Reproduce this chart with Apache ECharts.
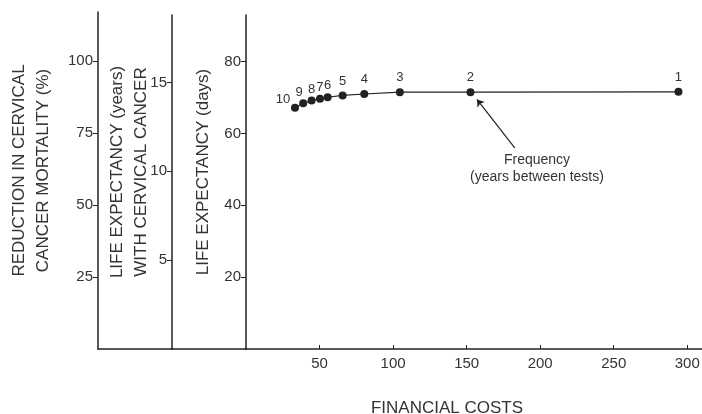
<!DOCTYPE html>
<html><head><meta charset="utf-8">
<script src="https://cdn.jsdelivr.net/npm/echarts@6/dist/echarts.min.js"></script>
<style>html,body{margin:0;padding:0;background:#fff}#c{width:702px;height:414px}</style>
</head><body><div id="c"></div>
<script>
// Data
const frequency = ['10','9','8','7','6','5','4','3','2','1'];   // years between tests
const costs = [33.3, 38.9, 44.6, 50.3, 55.5, 65.7, 80.4, 104.6, 152.6, 294];
const lifeDays = [67.2, 68.4, 69.2, 69.7, 70.1, 70.6, 71.0, 71.5, 71.5, 71.6];
const xTicks = [50, 100, 150, 200, 250, 300];
const daysTicks = [20, 40, 60, 80];
const yearsTicks = [5, 10, 15];
const mortalityTicks = [25, 50, 75, 100];
const arrowFrom = [182.7, 56];
const arrowTo = [157, 69.5];

const FONT = 'Liberation Sans, Arial, sans-serif';
const INK = '#222';
const TXT = '#333';

const chart = echarts.init(document.getElementById('c'), null, {renderer: 'canvas'});

const lineStyle = {color: INK, width: 1.5};
function plainX(gi) {
  return {gridIndex: gi, type: 'value', min: 0, max: 1,
    axisLine: {show: true, lineStyle}, axisTick: {show: false},
    axisLabel: {show: false}, splitLine: {show: false}};
}
function yAx(gi, max, ticks, name, gap) {
  return {gridIndex: gi, type: 'value', min: 0, max: max,
    axisLine: {show: true, onZero: false, lineStyle},
    axisTick: {show: true, length: 5, customValues: ticks, lineStyle: {color: INK, width: 1}},
    axisLabel: {customValues: ticks, color: TXT, fontSize: 15, fontFamily: FONT, margin: 5},
    splitLine: {show: false},
    name: name, nameLocation: 'middle', nameRotate: 90, nameGap: gap, nameMoveOverlap: false,
    nameTextStyle: {color: TXT, fontSize: 17, fontFamily: FONT, lineHeight: 24, padding: [0, 0, 0, 20]}};
}

const labelOffsets = {0: [-12, 6], 1: [-4, 4], 2: [0, 3], 3: [0, 3], 4: [0, 3]};
const pts = costs.map((c, i) => {
  const item = {value: [c, lifeDays[i]], name: frequency[i]};
  if (labelOffsets[i]) item.label = {offset: labelOffsets[i]};
  return item;
});

chart.setOption({
  backgroundColor: '#fff',
  animation: false,
  grid: [
    {left: 246, right: 0, top: 15, bottom: 65, outerBoundsMode: 'none', containLabel: false},
    {left: 98, width: 74, top: 12, bottom: 65, outerBoundsMode: 'none', containLabel: false},
    {left: 172, width: 74, top: 15, bottom: 65, outerBoundsMode: 'none', containLabel: false}
  ],
  xAxis: [
    {gridIndex: 0, type: 'value', min: 0, max: 310,
      axisLine: {show: true, lineStyle},
      axisTick: {show: true, inside: true, length: 4, customValues: xTicks, lineStyle: {color: INK, width: 1}},
      axisLabel: {customValues: xTicks, color: TXT, fontSize: 15, fontFamily: FONT, margin: 7},
      splitLine: {show: false},
      name: 'FINANCIAL COSTS', nameLocation: 'middle', nameGap: 51, nameMoveOverlap: false,
      nameTextStyle: {color: TXT, fontSize: 17, fontFamily: FONT, padding: [0, 54, 0, 0]}},
    plainX(1), plainX(2)
  ],
  yAxis: [
    yAx(0, 93, daysTicks, 'LIFE EXPECTANCY (days)', 31),
    yAx(1, 117, mortalityTicks, 'REDUCTION IN CERVICAL\nCANCER MORTALITY (%)', 43),
    yAx(2, 18.8, yearsTicks, 'LIFE EXPECTANCY (years)\nWITH CERVICAL CANCER', 19)
  ],
  graphic: [
    {type: 'text', x: 537, y: 152, style: {text: 'Frequency\n(years between tests)', align: 'center',
      verticalAlign: 'top', fill: TXT, font: '14px ' + FONT, lineHeight: 17}}
  ],
  series: [{
    type: 'line', xAxisIndex: 0, yAxisIndex: 0, data: pts,
    symbol: 'circle', symbolSize: 8,
    itemStyle: {color: INK}, lineStyle: {color: INK, width: 1.2},
    label: {show: true, position: 'top', distance: 4, formatter: p => p.name,
      color: TXT, fontSize: 13, fontFamily: FONT},
    markLine: {silent: true, symbol: ['none', 'arrow'], symbolSize: 7,
      lineStyle: {color: INK, width: 1.2, type: 'solid'}, label: {show: false},
      data: [[{coord: arrowFrom}, {coord: arrowTo}]]}
  }]
});
</script></body></html>
